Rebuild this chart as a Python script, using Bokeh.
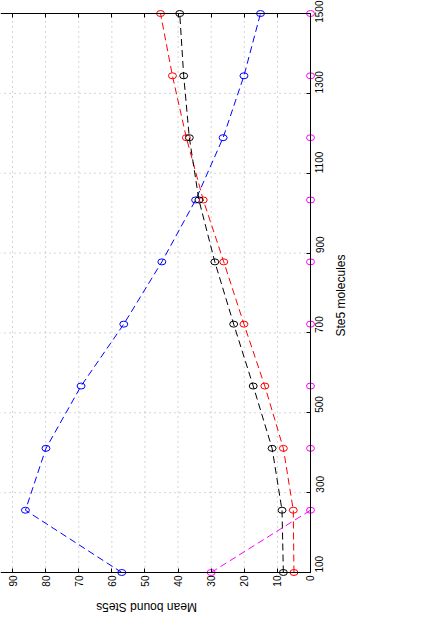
import math
from bokeh.plotting import figure
from bokeh.models import Range1d, FixedTicker, LinearAxis
from bokeh.core.properties import value
from bokeh.embed import file_html
from bokeh.resources import INLINE

# Data (x: Ste5 molecules, y: mean bound Ste5s); chart is drawn rotated 90 degrees
molecules = [100, 256, 411, 567, 722, 878, 1033, 1189, 1344, 1500]
blue_vals = [57.0, 86.1, 79.9, 69.3, 56.4, 44.9, 34.7, 26.4, 20.1, 15.1]
red_vals = [5.0, 5.2, 8.2, 13.8, 20.1, 26.2, 32.4, 37.5, 41.7, 45.3]
black_vals = [8.2, 8.6, 11.6, 17.3, 23.2, 28.9, 33.7, 36.6, 38.3, 39.5]
magenta_vals = [30.0, 0, 0, 0, 0, 0, 0, 0, 0, 0]

molecule_ticks = [100, 300, 500, 700, 900, 1100, 1300, 1500]
bound_ticks = [0, 10, 20, 30, 40, 50, 60, 70, 80, 90, 100]

x_label = "Ste5 molecules"
y_label = "Mean bound Ste5s"

FONT = "Liberation Sans"

# frame covers the whole drawing; axes are pinned inside it
p = figure(frame_width=375, frame_height=614,
           x_range=Range1d(93.63, -19.63), y_range=Range1d(-5.2, 1532.6),
           x_axis_location=None, y_axis_location=None,
           output_backend="svg", toolbar_location=None,
           min_border=0, min_border_left=0, min_border_top=0,
           min_border_right=0, min_border_bottom=0)
p.outline_line_color = None
p.background_fill_color = "white"
p.border_fill_color = "white"
p.xgrid.visible = False
p.ygrid.visible = False

# dotted grid drawn from the tick lists
grid_x = bound_ticks[1:-1]
p.segment(x0=grid_x, y0=[molecule_ticks[0]] * len(grid_x),
          x1=grid_x, y1=[molecule_ticks[-1]] * len(grid_x),
          line_color="#a8a8a8", line_dash="1 4", line_width=1)
grid_y = molecule_ticks[1:-1]
p.segment(x0=[bound_ticks[0]] * len(grid_y), y0=grid_y,
          x1=[bound_ticks[-1]] * len(grid_y), y1=grid_y,
          line_color="#a8a8a8", line_dash="1 4", line_width=1)

series = [(blue_vals, "#0000ff"), (red_vals, "#ff0000"),
          (black_vals, "#000000"), (magenta_vals, "#ff00ff")]
for vals, col in series:
    p.line(vals, molecules, line_color=col, line_width=1, line_dash="7 4")
    p.ellipse(vals, molecules, width=8, height=6, width_units="screen",
              height_units="screen", fill_color=None, line_color=col, line_width=1)

# bottom axis (mean bound), pinned at molecules = 100
xa = LinearAxis(ticker=FixedTicker(ticks=bound_ticks), fixed_location=100,
                bounds=(0, 100),
                major_label_orientation=math.pi / 2,
                major_label_text_font=FONT, major_label_text_font_size="10px",
                major_label_text_color="black",
                major_tick_in=4, major_tick_out=0, minor_tick_line_color=None,
                axis_line_color="black", major_tick_line_color="black",
                major_label_standoff=3)
p.add_layout(xa, "below")

# right axis (molecules), pinned at x = 0
ya = LinearAxis(ticker=FixedTicker(ticks=molecule_ticks), fixed_location=0,
                bounds=(100, 1500),
                major_label_orientation=math.pi / 2,
                major_label_text_font=FONT, major_label_text_font_size="10px",
                major_label_text_color="black",
                major_tick_in=4, major_tick_out=0, minor_tick_line_color=None,
                axis_line_color="black", major_tick_line_color="black",
                major_label_standoff=9)
p.add_layout(ya, "right")

# top box edge with inward ticks (minor ticks carry no labels)
top = LinearAxis(ticker=FixedTicker(ticks=[], minor_ticks=bound_ticks),
                 fixed_location=1500, bounds=(0, 100),
                 major_tick_in=0, major_tick_out=0,
                 minor_tick_in=4, minor_tick_out=0, major_label_standoff=0,
                 axis_line_color="black", minor_tick_line_color="black")
p.add_layout(top, "above")

# axis titles as text glyphs inside the frame
p.text(x=[-9.06], y=[793.7], text=[x_label], angle=math.pi / 2,
       text_align="center", text_baseline="middle",
       text_font=value(FONT), text_font_size="12px", text_color="black")
p.text(x=[49.53], y=[12.35], text=[y_label], angle=math.pi,
       text_align="center", text_baseline="middle",
       text_font=value(FONT), text_font_size="12px", text_color="black")

open("out.html", "w").write(file_html(p, INLINE))
